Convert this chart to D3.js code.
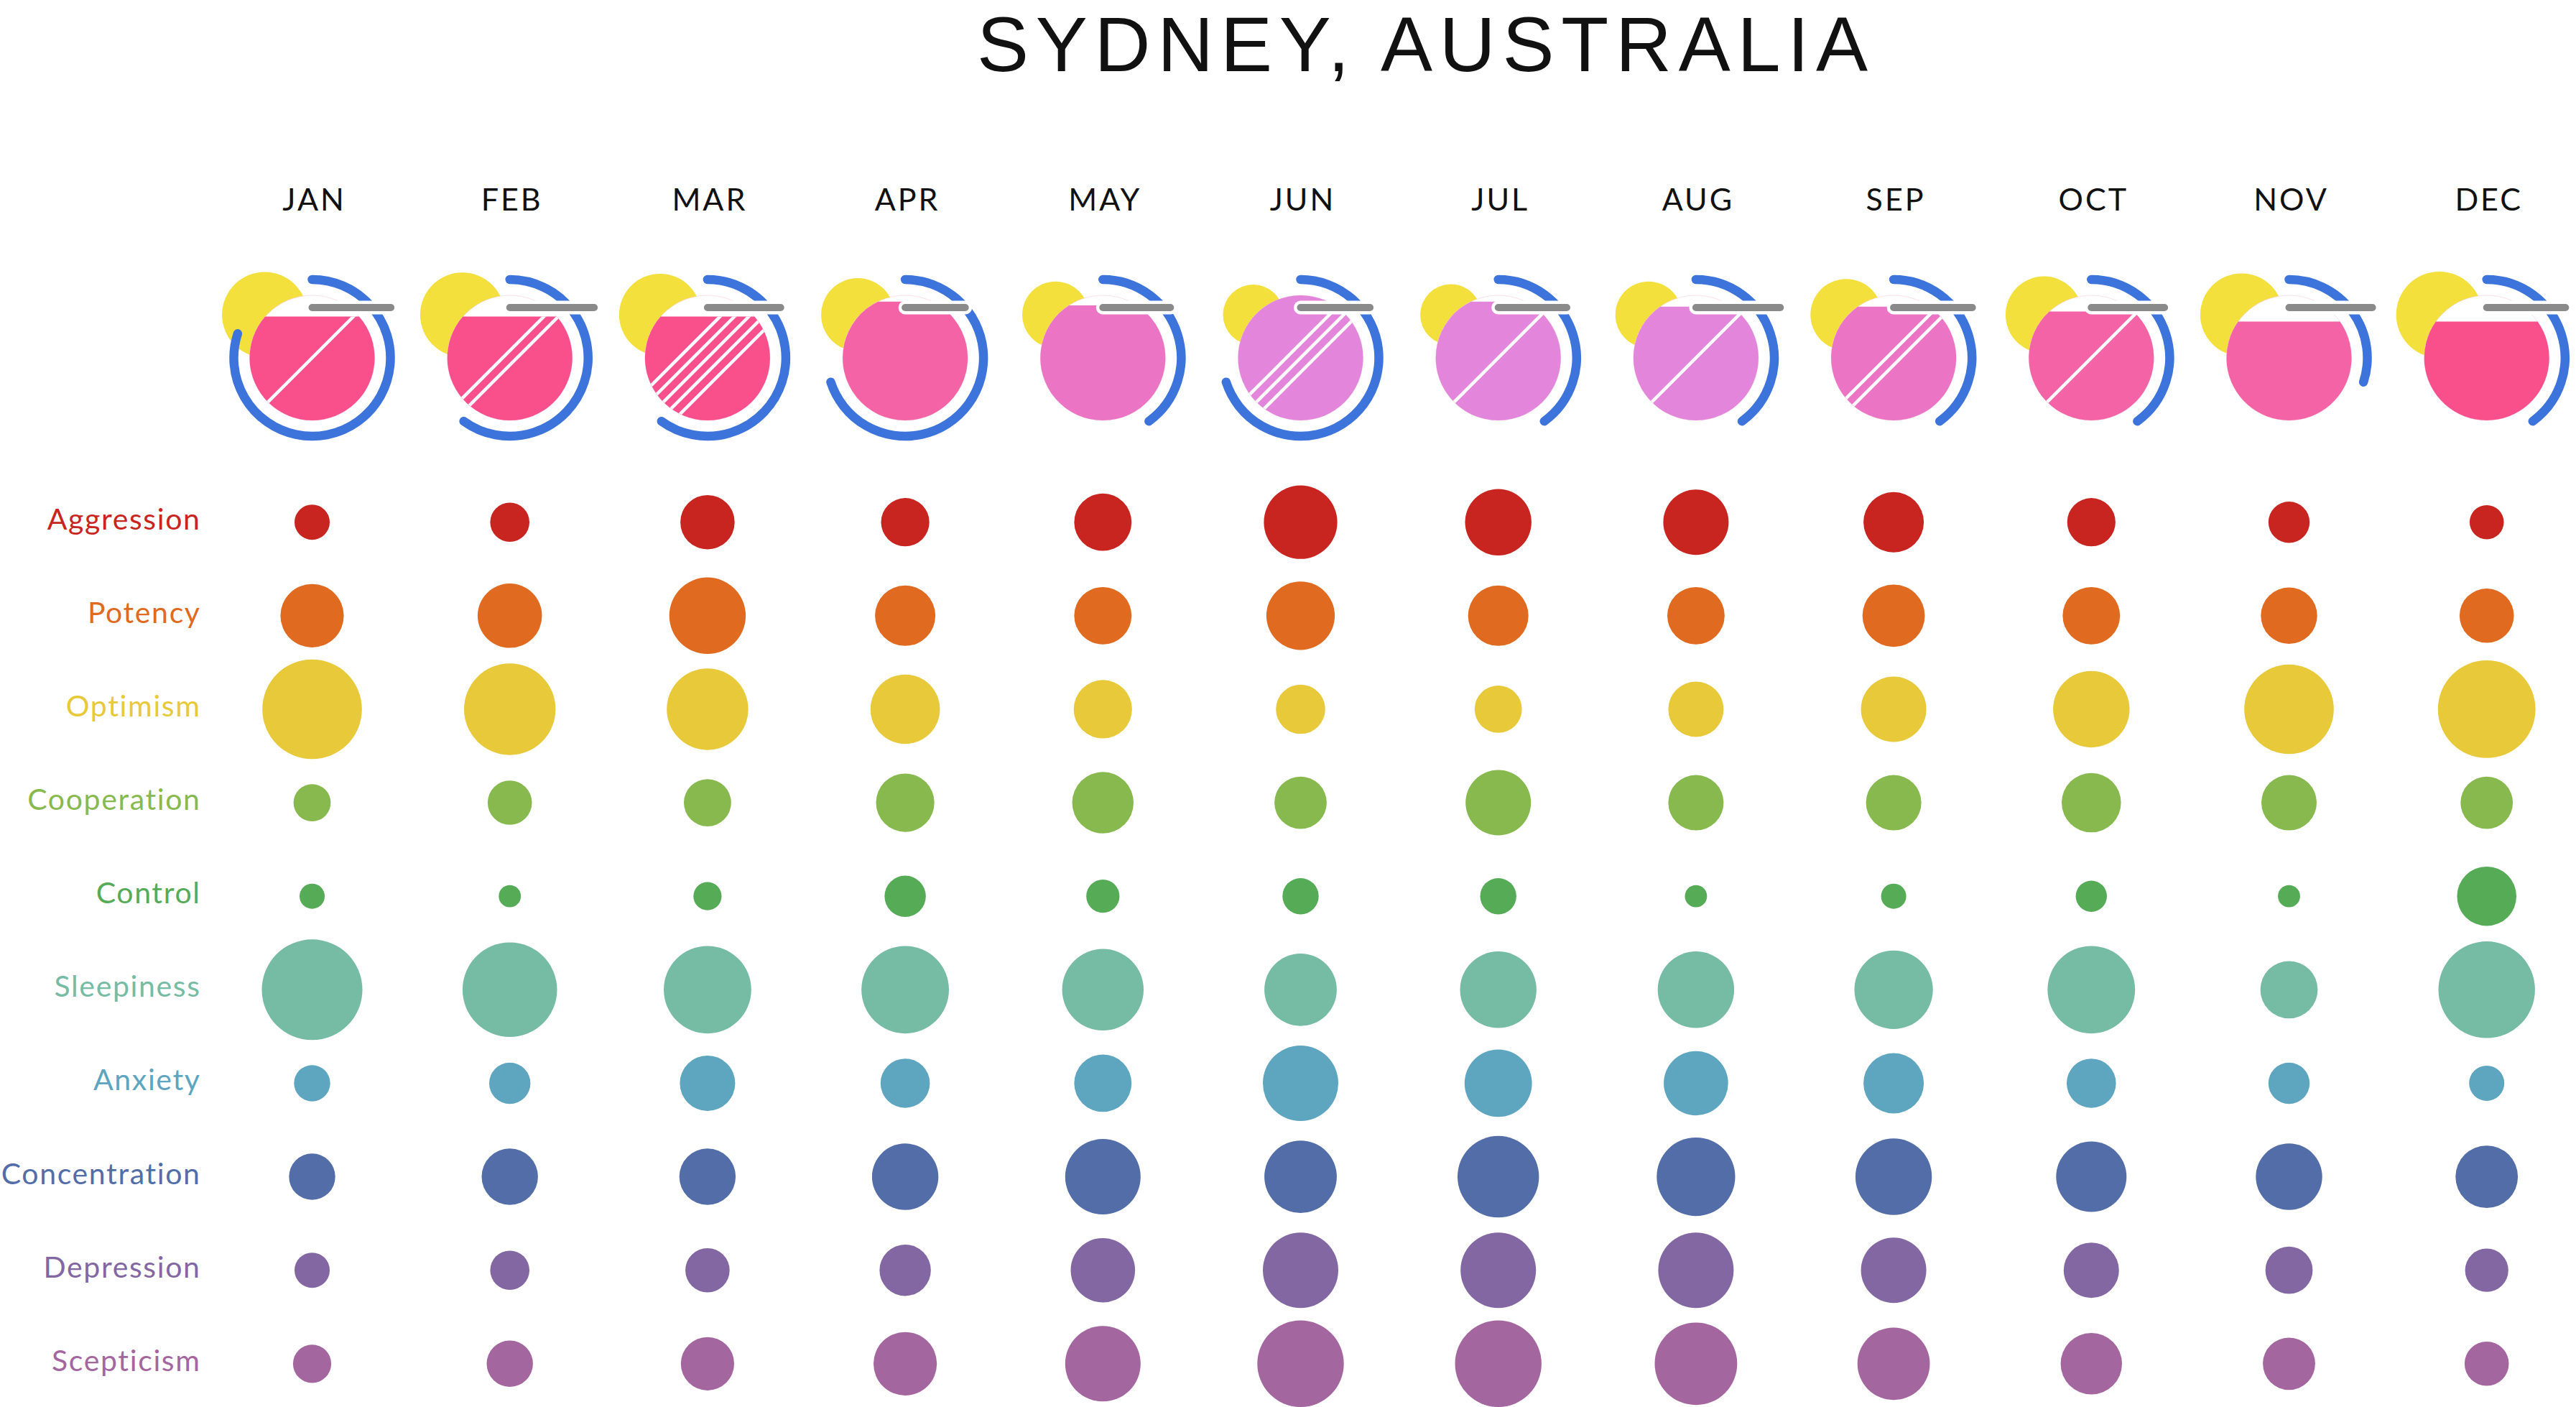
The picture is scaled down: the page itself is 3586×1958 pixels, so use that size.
<!DOCTYPE html>
<html>
<head>
<meta charset="utf-8">
<script src="https://cdn.jsdelivr.net/npm/d3@7"></script>
<style>
  html, body { margin: 0; padding: 0; background: #ffffff; }
  svg { display: block; }
</style>
</head>
<body>
<script>
// ---------------- DATA ----------------
const title = "SYDNEY, AUSTRALIA";
const months = ["JAN","FEB","MAR","APR","MAY","JUN","JUL","AUG","SEP","OCT","NOV","DEC"];
const metrics = ["Aggression","Potency","Optimism","Cooperation","Control","Sleepiness","Anxiety","Concentration","Depression","Scepticism"];

// mood index per month (0-100)
const aggression    = [35, 39, 54, 48, 57, 73, 66, 65, 60, 48, 41, 34];
const potency       = [63, 64, 76, 60, 57, 68, 60, 57, 62, 57, 56, 54];
const optimism      = [99, 91, 81, 69, 58, 49, 47, 55, 65, 76, 89, 97];
const cooperation   = [37, 44, 47, 58, 61, 52, 65, 55, 55, 59, 55, 52];
const control       = [25, 22, 28, 41, 33, 36, 36, 22, 25, 31, 22, 59];
const sleepiness    = [100, 94, 87, 87, 81, 72, 76, 76, 78, 87, 57, 96];
const anxiety       = [36, 41, 55, 49, 57, 75, 67, 64, 60, 49, 41, 35];
const concentration = [46, 56, 56, 66, 75, 72, 81, 78, 76, 70, 66, 62];
const depression    = [35, 39, 44, 51, 64, 75, 75, 75, 65, 55, 47, 43];
const scepticism    = [38, 46, 53, 63, 75, 86, 86, 82, 72, 61, 52, 44];

// weather glyph values per month
const sunIndex     = [99, 98, 95, 85, 77, 70, 71, 77, 83, 89, 96, 100]; // yellow disc
const fillPercent  = [83, 83, 83, 95, 92, 100, 95, 91, 91, 87, 79, 79]; // pink fill level
const arcTenths    = [8, 6, 6, 7, 4, 7, 4, 4, 4, 4, 3, 4];              // blue ring extent
const rainStripes  = [1, 2, 5, 0, 0, 3, 1, 1, 2, 1, 0, 0];              // white diagonal stripes
const barIndex     = [92, 98, 86, 72, 80, 82, 81, 98, 92, 86, 97, 92];  // grey bar
const toneLevel    = [0, 0, 0, 1, 2, 3, 3, 3, 2, 1, 1, 0];              // pink tone

const metricSeries = [aggression, potency, optimism, cooperation, control,
                      sleepiness, anxiety, concentration, depression, scepticism];
const metricColors = ["#C92520","#E06A20","#E8C93A","#88B94F","#56AB57",
                      "#76BBA3","#5EA5C0","#526DA8","#8367A3","#A4669F"];
const toneColors   = ["#F9508C","#F463A6","#EC74C4","#E385DB"];

// ---------------- LAYOUT ----------------
const W = 3586, H = 1958;
const svg = d3.select("body").append("svg").attr("width", W).attr("height", H);
svg.append("rect").attr("width", W).attr("height", H).attr("fill", "#fff");
const FONT = "Lato, 'Open Sans', sans-serif";

const x = d3.scalePoint().domain(months).range([434.5, 3461.7]);
const y = d3.scalePoint().domain(metrics).range([726.7, 1897.8]);
const rScale = d3.scaleLinear().domain([0, 100]).range([0, 70]);
const sunR = d3.scaleLinear().domain([0, 100]).range([0, 60]);
const PR = 87; // pink disc radius
const fillY = d3.scaleLinear().domain([0, 100]).range([PR, -PR]);
const arcA = d3.scaleLinear().domain([0, 10]).range([0, 2 * Math.PI]);
const barL = d3.scaleLinear().domain([0, 100]).range([0, 130]);
const glyphY = 498;

// Title
const tt = svg.append("text").text(title)
  .attr("x", 1980).attr("y", 99)
  .attr("text-anchor", "middle")
  .attr("font-family", "'Liberation Sans', Arial, sans-serif").attr("font-size", 108)
  .attr("fill", "#111");
(function(){
  const w0 = tt.node().getComputedTextLength();
  const n = title.length;
  const ls = (1240 - w0) / (n - 1);
  tt.attr("letter-spacing", ls).attr("x", 1980 + ls / 2);
})();

// Month labels
svg.append("g").selectAll("text").data(months).join("text")
  .attr("x", d => x(d) + 3).attr("y", 293)
  .attr("text-anchor", "middle")
  .attr("font-family", FONT).attr("font-size", 43)
  .attr("letter-spacing", 3)
  .attr("fill", "#111")
  .text(d => d);

// Row labels
const labels = svg.append("g").selectAll("text").data(metrics).join("text")
  .attr("y", d => y(d) + 10)
  .attr("text-anchor", "end")
  .attr("font-family", FONT).attr("font-size", 41)
  .attr("fill", (d, i) => metricColors[i])
  .text(d => d);
(function(){
  const idx = metrics.indexOf("Concentration");
  const node = labels.nodes()[idx];
  const w0 = node.getComputedTextLength();
  const ls = (277 - w0) / ("Concentration".length - 1);
  labels.attr("letter-spacing", ls).attr("x", 278 + ls);
})();

// Bubbles
const rows = svg.append("g").selectAll("g").data(metrics).join("g");
rows.each(function(m, mi) {
  d3.select(this).selectAll("circle").data(metricSeries[mi]).join("circle")
    .attr("cx", (d, i) => x(months[i]))
    .attr("cy", y(m))
    .attr("r", d => rScale(d))
    .attr("fill", metricColors[mi]);
});

// Weather glyphs
const defs = svg.append("defs");
const glyphs = svg.append("g").selectAll("g").data(months).join("g")
  .attr("transform", d => `translate(${x(d)},${glyphY})`);

glyphs.each(function(m, i) {
  const g = d3.select(this);
  const h = fillY(fillPercent[i]);
  let segD;
  if (h <= -PR + 0.01) {
    const p = d3.path(); p.arc(0, 0, PR, 0, 2 * Math.PI); p.closePath(); segD = p.toString();
  } else {
    const w = Math.sqrt(PR * PR - h * h);
    segD = `M${-w},${h}L${w},${h}A${PR},${PR} 0 ${h < 0 ? 1 : 0} 1 ${-w},${h}Z`;
  }
  const clipId = "seg-" + i;
  defs.append("clipPath").attr("id", clipId).append("path").attr("d", segD);

  g.append("circle").attr("cx", -66).attr("cy", -60).attr("r", sunR(sunIndex[i]))
    .attr("fill", "#F3E03C");
  g.append("circle").attr("r", PR).attr("fill", "#fff")
    .attr("stroke", "#F9C9DC").attr("stroke-width", 1).attr("stroke-opacity", 0.6);
  g.append("path").attr("d", segD).attr("fill", toneColors[toneLevel[i]]);
  const n = rainStripes[i];
  const offs = d3.range(n).map(j => (j - (n - 1) / 2) * 20);
  g.append("g").attr("clip-path", `url(#${clipId})`)
    .selectAll("line").data(offs).join("line")
    .attr("x1", -130).attr("y1", d => d + 130)
    .attr("x2", 130).attr("y2", d => d - 130)
    .attr("stroke", "#fff").attr("stroke-width", 4.5);
  const a = arcA(arcTenths[i]);
  const p = d3.path();
  p.arc(0, 0, 109, -Math.PI / 2, -Math.PI / 2 + a, false);
  g.append("path").attr("d", p.toString())
    .attr("fill", "none").attr("stroke", "#3C74DC")
    .attr("stroke-width", 12.5).attr("stroke-linecap", "round");
  const L = barL(barIndex[i]);
  g.append("line").attr("x1", 0).attr("x2", L - 10).attr("y1", -70).attr("y2", -70)
    .attr("stroke", "#fff").attr("stroke-width", 19).attr("stroke-linecap", "round");
  g.append("line").attr("x1", 0).attr("x2", L - 10).attr("y1", -70).attr("y2", -70)
    .attr("stroke", "#8A8A8A").attr("stroke-width", 10).attr("stroke-linecap", "round");
});
</script>
</body>
</html>
